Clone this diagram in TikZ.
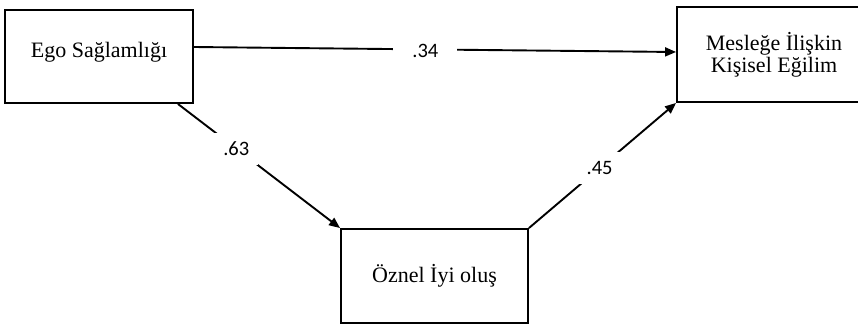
\documentclass[tikz,border=0pt]{standalone}
\usepackage{fontspec}
\setmainfont{Liberation Serif}
\newfontfamily\coeffont{Carlito}
\usetikzlibrary{arrows.meta}

\begin{document}
\begin{tikzpicture}
        [%%%%%%%%%%%%%%%%%%%%%%%%%%%%%%
            x=1pt, y=-1pt,
            var/.style={rectangle, draw=black, line width=1.9pt, align=center, inner sep=0pt, font=\fontsize{22}{22}\selectfont},
            path/.style={line width=1.9pt, -{Triangle[length=11pt,width=9pt]}},
            coef/.style={fill=white, inner sep=9pt, font=\coeffont\fontsize{20.5}{22}\selectfont},
        ]%%%%%%%%%%%%%%%%%%%%%%%%%%%%%%

        \useasboundingbox (0,0) rectangle (858,324);
        \clip (0,0) rectangle (858,324);

        \node[var, minimum width=188pt, minimum height=93pt, text depth=12.5pt] (ego) at (99,56.5){Ego Sağlamlığı};
        \node[var, minimum width=194pt, minimum height=95pt] (mes) at (774,54.5){Mesleğe İlişkin\\Kişisel Eğilim};
        \node[var, minimum width=187pt, minimum height=94pt] (oz) at (434.5,276){Öznel İyi oluş};

        \draw[path] ([yshift=9.5pt]ego.east) -- node[coef, pos=0.48, inner xsep=19pt, yshift=-2pt]{.34} ([yshift=2.5pt]mes.west);
        \draw[path] ([xshift=-16pt]ego.south east) -- node[coef, pos=0.36]{.63} (oz.north west);
        \draw[path] (oz.north east) -- node[coef, pos=0.48]{.45} (mes.south west);
    \end{tikzpicture}
\end{document}
